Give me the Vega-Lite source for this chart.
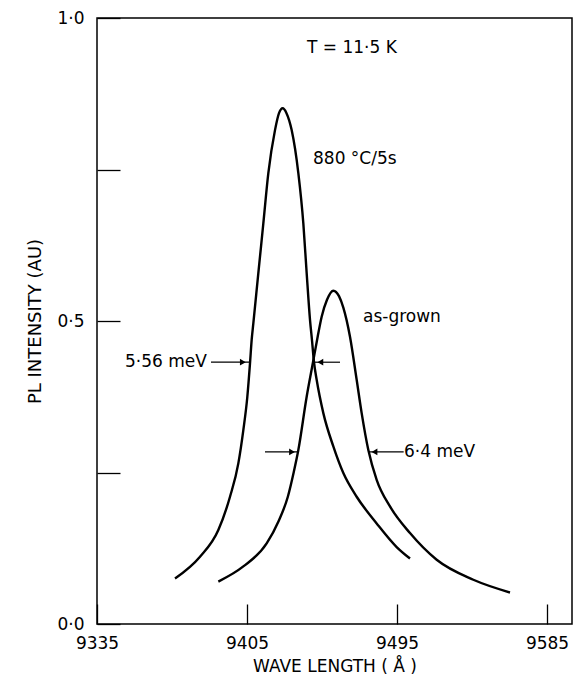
{
  "$schema": "https://vega.github.io/schema/vega-lite/v6.json",
  "width": 475,
  "height": 606,
  "autosize": "none",
  "padding": {"left": 97, "top": 18, "right": 1, "bottom": 61},
  "background": "white",
  "config": {
    "view": {"stroke": "black", "strokeWidth": 1.5},
    "font": "DejaVu Sans",
    "axis": {"grid": false, "domain": false, "tickColor": "black", "tickWidth": 1.3, "labelColor": "black", "titleColor": "black", "labelFont": "DejaVu Sans", "titleFont": "DejaVu Sans", "titleFontWeight": "normal"}
  },
  "datasets": {
    "curves": [
      {"series": "880C", "lam": 9361.8, "I": 0.075},
      {"series": "880C", "lam": 9376.8, "I": 0.111},
      {"series": "880C", "lam": 9387.8, "I": 0.155},
      {"series": "880C", "lam": 9394.8, "I": 0.210},
      {"series": "880C", "lam": 9399.8, "I": 0.265},
      {"series": "880C", "lam": 9402.8, "I": 0.320},
      {"series": "880C", "lam": 9405.2, "I": 0.375},
      {"series": "880C", "lam": 9406.8, "I": 0.430},
      {"series": "880C", "lam": 9407.8, "I": 0.469},
      {"series": "880C", "lam": 9408.8, "I": 0.496},
      {"series": "880C", "lam": 9411.8, "I": 0.579},
      {"series": "880C", "lam": 9414.8, "I": 0.661},
      {"series": "880C", "lam": 9417.8, "I": 0.744},
      {"series": "880C", "lam": 9421.8, "I": 0.815},
      {"series": "880C", "lam": 9424.2, "I": 0.843},
      {"series": "880C", "lam": 9426.4, "I": 0.851},
      {"series": "880C", "lam": 9428.7, "I": 0.843},
      {"series": "880C", "lam": 9431.8, "I": 0.815},
      {"series": "880C", "lam": 9435.8, "I": 0.744},
      {"series": "880C", "lam": 9438.8, "I": 0.661},
      {"series": "880C", "lam": 9440.8, "I": 0.579},
      {"series": "880C", "lam": 9442.8, "I": 0.502},
      {"series": "880C", "lam": 9444.0, "I": 0.468},
      {"series": "880C", "lam": 9445.2, "I": 0.432},
      {"series": "880C", "lam": 9446.8, "I": 0.403},
      {"series": "880C", "lam": 9450.8, "I": 0.348},
      {"series": "880C", "lam": 9456.8, "I": 0.293},
      {"series": "880C", "lam": 9462.8, "I": 0.249},
      {"series": "880C", "lam": 9470.8, "I": 0.210},
      {"series": "880C", "lam": 9482.8, "I": 0.166},
      {"series": "880C", "lam": 9494.8, "I": 0.127},
      {"series": "880C", "lam": 9502.8, "I": 0.108},
      {"series": "asgrown", "lam": 9387.8, "I": 0.070},
      {"series": "asgrown", "lam": 9402.8, "I": 0.095},
      {"series": "asgrown", "lam": 9416.8, "I": 0.133},
      {"series": "asgrown", "lam": 9424.0, "I": 0.170},
      {"series": "asgrown", "lam": 9429.5, "I": 0.210},
      {"series": "asgrown", "lam": 9433.0, "I": 0.250},
      {"series": "asgrown", "lam": 9435.8, "I": 0.287},
      {"series": "asgrown", "lam": 9440.8, "I": 0.375},
      {"series": "asgrown", "lam": 9444.6, "I": 0.432},
      {"series": "asgrown", "lam": 9447.4, "I": 0.474},
      {"series": "asgrown", "lam": 9449.8, "I": 0.507},
      {"series": "asgrown", "lam": 9453.0, "I": 0.535},
      {"series": "asgrown", "lam": 9456.8, "I": 0.550},
      {"series": "asgrown", "lam": 9460.2, "I": 0.541},
      {"series": "asgrown", "lam": 9462.8, "I": 0.522},
      {"series": "asgrown", "lam": 9466.8, "I": 0.474},
      {"series": "asgrown", "lam": 9470.8, "I": 0.403},
      {"series": "asgrown", "lam": 9473.8, "I": 0.348},
      {"series": "asgrown", "lam": 9477.8, "I": 0.287},
      {"series": "asgrown", "lam": 9482.8, "I": 0.238},
      {"series": "asgrown", "lam": 9490.8, "I": 0.194},
      {"series": "asgrown", "lam": 9502.8, "I": 0.150},
      {"series": "asgrown", "lam": 9518.8, "I": 0.106},
      {"series": "asgrown", "lam": 9540.8, "I": 0.073},
      {"series": "asgrown", "lam": 9562.8, "I": 0.052}
    ],
    "labels": [
      {"text": "T = 11·5 K", "lam": 9441.0, "I": 0.950},
      {"text": "880 °C/5s", "lam": 9444.6, "I": 0.767},
      {"text": "as-grown", "lam": 9474.6, "I": 0.506},
      {"text": "5·56 meV", "lam": 9331.8, "I": 0.432},
      {"text": "6·4 meV", "lam": 9499.2, "I": 0.284}
    ],
    "arrows": [
      {"x1": 9383.4, "x2": 9406.8, "I": 0.432, "hx": 9402.5, "dir": "right"},
      {"x1": 9445.2, "x2": 9460.8, "I": 0.432, "hx": 9449.0, "dir": "left"},
      {"x1": 9415.8, "x2": 9435.6, "I": 0.284, "hx": 9432.0, "dir": "right"},
      {"x1": 9477.6, "x2": 9499.0, "I": 0.284, "hx": 9481.5, "dir": "left"}
    ]
  },
  "layer": [
    {
      "data": {"name": "curves"},
      "mark": {"type": "line", "interpolate": "monotone", "color": "black", "strokeWidth": 2.4},
      "encoding": {
        "x": {
          "field": "lam", "type": "quantitative",
          "scale": {"domain": [9315, 9600], "nice": false, "zero": false},
          "axis": {
            "values": [9315, 9405, 9495, 9585],
            "labelExpr": "datum.value == 9315 ? '9335' : datum.label",
            "format": "d",
            "tickSize": -20,
            "labelPadding": 31,
            "labelFontSize": 17,
            "labelFlush": false,
            "title": "WAVE LENGTH ( Å )",
            "titleFontSize": 17,
            "titlePadding": 7
          }
        },
        "y": {
          "field": "I", "type": "quantitative",
          "scale": {"domain": [0, 1], "nice": false},
          "axis": {
            "values": [0, 0.25, 0.5, 0.75, 1],
            "labelExpr": "datum.value == 0.25 || datum.value == 0.75 ? '' : replace(format(datum.value, '.1f'), '.', '·')",
            "tickSize": -23,
            "labelPadding": 36,
            "labelFontSize": 17,
            "labelFlush": false,
            "title": "PL INTENSITY (AU)",
            "titleFontSize": 18,
            "titlePadding": 12
          }
        },
        "detail": {"field": "series"}
      }
    },
    {
      "data": {"name": "labels"},
      "mark": {"type": "text", "align": "left", "baseline": "middle", "fontSize": 17, "color": "black"},
      "encoding": {
        "x": {"field": "lam", "type": "quantitative"},
        "y": {"field": "I", "type": "quantitative"},
        "text": {"field": "text"}
      }
    },
    {
      "data": {"name": "arrows"},
      "mark": {"type": "rule", "color": "black", "strokeWidth": 1.2},
      "encoding": {
        "x": {"field": "x1", "type": "quantitative"},
        "x2": {"field": "x2"},
        "y": {"field": "I", "type": "quantitative"}
      }
    },
    {
      "data": {"name": "arrows"},
      "mark": {"type": "point", "filled": true, "color": "black", "size": 45, "opacity": 1},
      "encoding": {
        "x": {"field": "hx", "type": "quantitative"},
        "y": {"field": "I", "type": "quantitative"},
        "shape": {"field": "dir", "type": "nominal", "scale": {"domain": ["right", "left"], "range": ["triangle-right", "triangle-left"]}, "legend": null}
      }
    }
  ]
}
